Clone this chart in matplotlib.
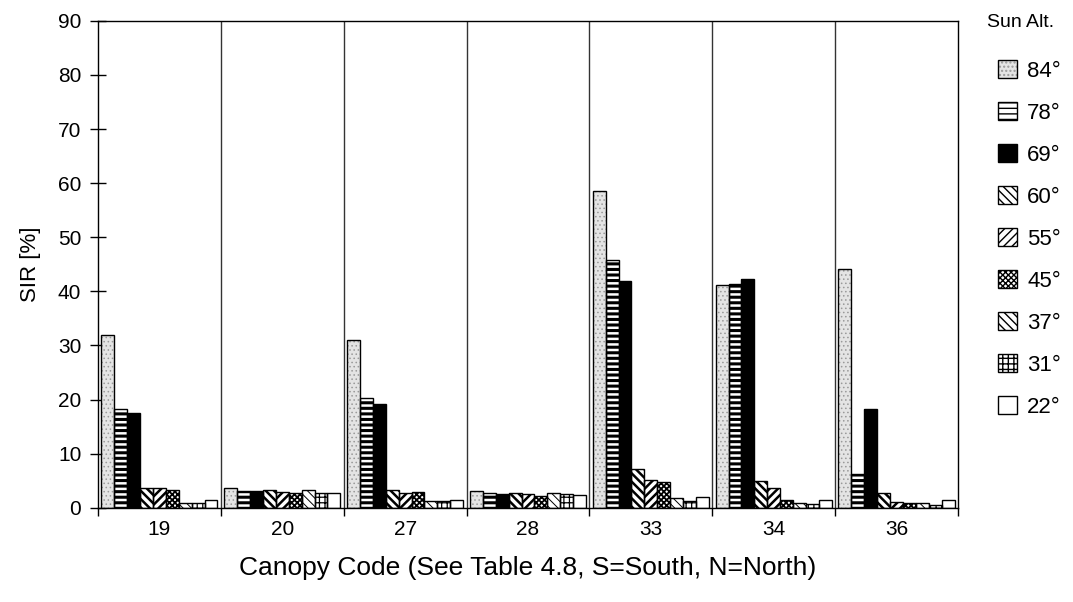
import matplotlib
matplotlib.use("Agg")
import matplotlib.pyplot as plt
import numpy as np
from matplotlib.patches import Patch

plt.rcParams["font.family"] = ["Liberation Sans", "DejaVu Sans"]

# canopy codes on the x axis
canopies = ["19", "20", "27", "28", "33", "34", "36"]

# sun altitude series (SIR %) per canopy
sun_alt = ["84°", "78°", "69°", "60°", "55°", "45°", "37°", "31°", "22°"]
sir_84 = [31.9, 3.7, 31.0, 3.0, 58.6, 41.1, 44.2]
sir_78 = [18.3, 3.0, 20.2, 2.8, 45.7, 41.3, 6.3]
sir_69 = [17.5, 3.0, 19.1, 2.5, 41.9, 42.2, 18.2]
sir_60 = [3.7, 3.3, 3.3, 2.7, 7.1, 4.9, 2.8]
sir_55 = [3.7, 2.9, 2.8, 2.5, 5.2, 3.6, 1.1]
sir_45 = [3.2, 2.8, 2.9, 2.2, 4.7, 1.4, 0.9]
sir_37 = [0.9, 3.3, 1.2, 2.8, 1.8, 0.8, 0.9]
sir_31 = [0.9, 2.8, 1.2, 2.5, 1.2, 0.6, 0.5]
sir_22 = [1.4, 2.7, 1.4, 2.4, 1.9, 1.5, 1.4]
series = [sir_84, sir_78, sir_69, sir_60, sir_55, sir_45, sir_37, sir_31, sir_22]

# fill style per series: (facecolor, hatch, hatch colour, hatch linewidth)
STYLE = [
    ("#e4e4e4", "....", "#9a9a9a", 0.6),
    ("white", "---", "black", 2.2),
    ("black", None, "black", 1.0),
    ("white", "\\\\\\\\", "black", 1.8),
    ("white", "////", "black", 1.8),
    ("white", "xxxxxx", "black", 1.3),
    ("white", "\\\\\\\\", "black", 0.7),
    ("white", "+++", "black", 0.9),
    ("white", None, "black", 1.0),
]

fig = plt.figure(figsize=(10.73, 6.02), dpi=100)
ax = fig.add_axes([0.0913, 0.1566, 0.8015, 0.8088])

x = np.arange(len(canopies))
width = 0.105
handles = []
for i, (vals, st) in enumerate(zip(series, STYLE)):
    fc, hatch, hc, hlw = st
    pos = x + (i - 4) * width
    with plt.rc_context({"hatch.linewidth": hlw}):
        ax.bar(pos, vals, width, color=fc, hatch=hatch, edgecolor=hc,
               linewidth=0, zorder=2)
        ax.bar(pos, vals, width, fill=False, edgecolor="black",
               linewidth=1.0, zorder=3)
        h_fill = Patch(facecolor=fc, hatch=hatch, edgecolor=hc, linewidth=0)
    h_edge = Patch(fill=False, edgecolor="black", linewidth=1.0)
    handles.append((h_fill, h_edge))

ax.set_xlim(-0.5, len(canopies) - 0.5)
ax.set_ylim(0, 90)
ax.set_yticks(np.arange(0, 91, 10))

# group separators
for b in np.arange(0.5, len(canopies) - 0.5, 1):
    ax.axvline(b, color="#333333", linewidth=1.0, zorder=1)

ax.set_xticks(np.arange(-0.5, len(canopies), 1))
ax.set_xticklabels([])
ax.set_xticks(x, minor=True)
ax.set_xticklabels(canopies, minor=True)
ax.tick_params(axis="x", which="major", direction="out", length=6, width=1)
ax.tick_params(axis="x", which="minor", length=0, pad=9, labelsize=15)
ax.tick_params(axis="y", direction="inout", length=12, width=1, pad=6,
               labelsize=15)
for s in ax.spines.values():
    s.set_linewidth(1.0)

ax.set_ylabel("SIR [%]", fontsize=16, labelpad=12)
ax.set_xlabel("Canopy Code (See Table 4.8, S=South, N=North)", fontsize=19,
              labelpad=12)

fig.text(0.951, 0.963, "Sun Alt.", fontsize=14, ha="center", va="center")
fig.legend(handles, sun_alt, loc="upper left", bbox_to_anchor=(0.920, 0.918),
           frameon=False, fontsize=16, handlelength=0.85, handleheight=0.85,
           handletextpad=0.45, labelspacing=0.92, borderpad=0)

fig.savefig("out.png", dpi=100)
